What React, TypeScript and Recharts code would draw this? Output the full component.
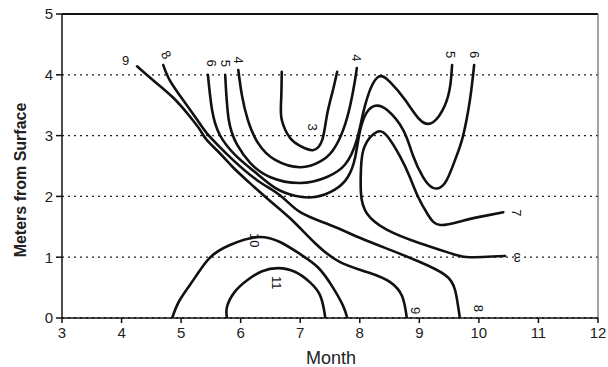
import React from 'react';
import { LineChart, Line, XAxis, YAxis, CartesianGrid, ReferenceLine, ReferenceDot } from 'recharts';

type P = { x: number; y: number };

const monthTicks = [3, 4, 5, 6, 7, 8, 9, 10, 11, 12];
const depthTicks = [0, 1, 2, 3, 4, 5];

const contour9: P[] = [
  { x: 4.26, y: 4.14 }, { x: 4.53, y: 3.91 }, { x: 4.86, y: 3.63 }, { x: 5.15, y: 3.31 },
  { x: 5.32, y: 3.09 }, { x: 5.43, y: 2.93 }, { x: 5.65, y: 2.71 }, { x: 5.87, y: 2.48 },
  { x: 6.12, y: 2.25 }, { x: 6.44, y: 1.97 }, { x: 6.83, y: 1.64 }, { x: 7.25, y: 1.23 },
  { x: 7.67, y: 0.92 }, { x: 8.17, y: 0.74 }, { x: 8.51, y: 0.59 }, { x: 8.71, y: 0.36 },
  { x: 8.79, y: 0 },
];

const contour8: P[] = [
  { x: 4.7, y: 4.16 }, { x: 4.81, y: 3.91 }, { x: 5.03, y: 3.59 }, { x: 5.27, y: 3.26 },
  { x: 5.43, y: 3.04 }, { x: 5.65, y: 2.81 }, { x: 5.87, y: 2.6 }, { x: 6.27, y: 2.27 },
  { x: 6.66, y: 2.02 }, { x: 7.0, y: 1.74 }, { x: 7.5, y: 1.53 }, { x: 8.0, y: 1.32 },
  { x: 8.51, y: 1.12 }, { x: 9.01, y: 0.92 }, { x: 9.43, y: 0.71 }, { x: 9.6, y: 0.46 },
  { x: 9.68, y: 0 },
];

const contour6: P[] = [
  { x: 5.45, y: 4.0 }, { x: 5.52, y: 3.42 }, { x: 5.65, y: 3.01 }, { x: 5.91, y: 2.68 },
  { x: 6.24, y: 2.4 }, { x: 6.58, y: 2.14 }, { x: 6.91, y: 2.01 }, { x: 7.25, y: 1.99 },
  { x: 7.58, y: 2.11 }, { x: 7.8, y: 2.32 }, { x: 7.92, y: 2.63 }, { x: 8.0, y: 3.06 },
  { x: 8.11, y: 3.37 }, { x: 8.26, y: 3.49 }, { x: 8.46, y: 3.42 }, { x: 8.73, y: 3.09 },
  { x: 8.89, y: 2.68 }, { x: 9.06, y: 2.32 }, { x: 9.23, y: 2.14 }, { x: 9.43, y: 2.22 },
  { x: 9.6, y: 2.6 }, { x: 9.73, y: 2.98 }, { x: 9.85, y: 3.59 }, { x: 9.92, y: 4.16 },
];

const contour5: P[] = [
  { x: 5.74, y: 4.0 }, { x: 5.8, y: 3.26 }, { x: 5.94, y: 2.85 }, { x: 6.16, y: 2.55 },
  { x: 6.49, y: 2.32 }, { x: 7.0, y: 2.22 }, { x: 7.45, y: 2.32 }, { x: 7.75, y: 2.52 },
  { x: 7.95, y: 2.93 }, { x: 8.09, y: 3.5 }, { x: 8.29, y: 3.95 }, { x: 8.51, y: 3.88 },
  { x: 8.76, y: 3.59 }, { x: 9.01, y: 3.26 }, { x: 9.23, y: 3.22 }, { x: 9.43, y: 3.5 },
  { x: 9.52, y: 3.83 }, { x: 9.55, y: 4.16 },
];

const contour4: P[] = [
  { x: 5.96, y: 4.08 }, { x: 6.02, y: 3.67 }, { x: 6.12, y: 3.26 }, { x: 6.29, y: 2.88 },
  { x: 6.58, y: 2.6 }, { x: 7.0, y: 2.48 }, { x: 7.33, y: 2.57 }, { x: 7.55, y: 2.76 },
  { x: 7.72, y: 3.09 }, { x: 7.84, y: 3.5 }, { x: 7.92, y: 3.91 }, { x: 7.95, y: 4.11 },
];

const contour3: P[] = [
  { x: 6.69, y: 4.05 }, { x: 6.68, y: 3.59 }, { x: 6.69, y: 3.26 }, { x: 6.83, y: 2.96 },
  { x: 7.0, y: 2.83 }, { x: 7.21, y: 2.76 }, { x: 7.37, y: 2.93 }, { x: 7.45, y: 3.34 },
  { x: 7.55, y: 3.75 }, { x: 7.62, y: 4.05 },
];

const contour7: P[] = [
  { x: 10.44, y: 1.02 }, { x: 9.85, y: 1.0 }, { x: 9.57, y: 1.05 }, { x: 9.01, y: 1.23 },
  { x: 8.46, y: 1.45 }, { x: 8.12, y: 1.72 }, { x: 8.02, y: 2.05 }, { x: 8.02, y: 2.45 },
  { x: 8.08, y: 2.82 }, { x: 8.29, y: 3.06 }, { x: 8.47, y: 2.98 }, { x: 8.68, y: 2.65 },
  { x: 8.84, y: 2.32 }, { x: 8.98, y: 1.99 }, { x: 9.15, y: 1.69 }, { x: 9.35, y: 1.53 },
  { x: 9.73, y: 1.6 }, { x: 10.1, y: 1.68 }, { x: 10.41, y: 1.74 },
];

const contour10: P[] = [
  { x: 4.85, y: 0 }, { x: 4.98, y: 0.3 }, { x: 5.23, y: 0.66 }, { x: 5.48, y: 0.99 },
  { x: 5.82, y: 1.2 }, { x: 6.27, y: 1.33 }, { x: 6.66, y: 1.25 }, { x: 7.0, y: 1.05 },
  { x: 7.3, y: 0.83 }, { x: 7.55, y: 0.5 }, { x: 7.72, y: 0.2 }, { x: 7.79, y: 0 },
];

const contour11: P[] = [
  { x: 5.77, y: 0 }, { x: 5.77, y: 0.18 }, { x: 5.9, y: 0.43 }, { x: 6.12, y: 0.63 },
  { x: 6.36, y: 0.77 }, { x: 6.63, y: 0.82 }, { x: 6.91, y: 0.76 }, { x: 7.16, y: 0.59 },
  { x: 7.33, y: 0.38 }, { x: 7.4, y: 0.13 }, { x: 7.42, y: 0 },
];

const contours: P[][] = [contour9, contour8, contour6, contour5, contour4, contour3, contour7, contour10, contour11];

const labelText = ['9', '8', '6', '5', '4', '4', '5', '6', '3', '10', '11', '9', '8', '7', '3'];
const labelX = [4.07, 4.75, 5.52, 5.74, 5.96, 7.95, 9.53, 9.92, 7.2, 6.24, 6.61, 8.94, 9.99, 10.64, 10.64];
const labelY = [4.23, 4.33, 4.19, 4.19, 4.24, 4.28, 4.33, 4.33, 3.14, 1.28, 0.58, 0.12, 0.16, 1.73, 1.0];
const labelAngle = [0, 60, 90, 90, 90, 90, 90, 90, 90, 90, 90, 90, 90, 90, 180];

const FONT = '"Liberation Sans", Arial, sans-serif';

export default function App() {
  return (
    <div style={{ position: 'absolute', left: 0, top: 0, width: 608, height: 367, background: '#fff' }}>
      <LineChart width={608} height={367} margin={{ top: 14, right: 10, bottom: 0, left: 0 }}>
        <CartesianGrid horizontal vertical={false} stroke="#222" strokeDasharray="2 4" strokeWidth={1.3} />
        <XAxis
          type="number"
          dataKey="x"
          domain={[3, 12]}
          ticks={monthTicks}
          allowDataOverflow
          height={49}
          tickSize={5}
          tickMargin={4}
          stroke="#111"
          strokeWidth={1.5}
          tick={{ fill: '#222', fontSize: 15, fontFamily: FONT }}
          label={{
            content: () => (
              <text x={331} y={364} textAnchor="middle" fontSize={18} fontFamily={FONT} fill="#222">
                Month
              </text>
            ),
          }}
        />
        <YAxis
          type="number"
          domain={[0, 5]}
          ticks={depthTicks}
          allowDataOverflow
          width={62}
          tickSize={6}
          tickMargin={3}
          stroke="#111"
          strokeWidth={1.5}
          tick={{ fill: '#222', fontSize: 15, fontFamily: FONT }}
          label={{
            content: () => (
              <text
                transform="rotate(-90)"
                x={-180}
                y={26}
                textAnchor="middle"
                fontSize={16}
                fontWeight="bold"
                fontFamily={FONT}
                fill="#222"
              >
                Meters from Surface
              </text>
            ),
          }}
        />
        <ReferenceLine y={5} stroke="#111" strokeWidth={1.8} />
        <ReferenceLine x={12} stroke="#666" strokeWidth={1.2} />
        {contours.map((c, i) => (
          <Line
            key={i}
            data={c}
            dataKey="y"
            type="natural"
            stroke="#111"
            strokeWidth={2.6}
            dot={false}
            activeDot={false}
            isAnimationActive={false}
            strokeLinecap="round"
            strokeLinejoin="round"
          />
        ))}
        {labelText.map((t, i) => (
          <ReferenceDot
            key={'l' + i}
            x={labelX[i]}
            y={labelY[i]}
            r={1}
            fill="none"
            stroke="none"
            label={{
              value: t,
              position: 'center',
              angle: labelAngle[i],
              fontSize: 13,
              fontFamily: FONT,
              fill: '#111',
            }}
          />
        ))}
      </LineChart>
    </div>
  );
}
